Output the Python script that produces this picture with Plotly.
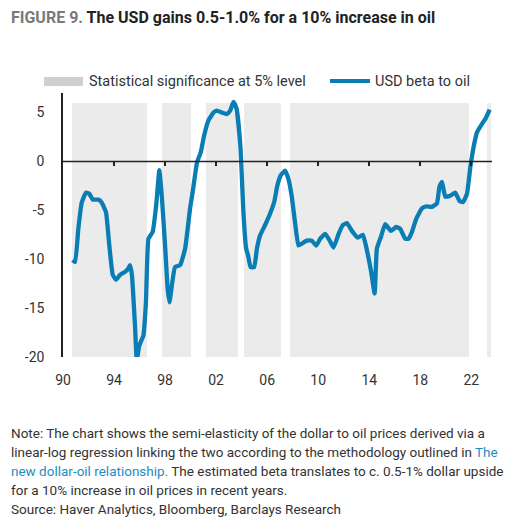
import numpy as np
import plotly.graph_objects as go

# USD beta to oil, decimal years
years = [
    1990.75, 1990.95, 1991.2, 1991.47, 1991.8, 1992.06, 1992.33, 1992.77, 1993.03, 1993.37,
    1993.63, 1993.9, 1994.16, 1994.47, 1994.86, 1995.12, 1995.25, 1995.4, 1995.65, 1995.78,
    1995.99, 1996.3, 1996.5, 1996.7, 1997.03, 1997.3, 1997.55, 1997.74, 1998.0, 1998.2,
    1998.34, 1998.5, 1998.78, 1999.18, 1999.57, 1999.96, 2000.2, 2000.5, 2000.8, 2001.06,
    2001.4, 2001.8, 2002.05, 2002.45, 2002.84, 2003.1, 2003.36, 2003.6, 2003.9, 2004.14,
    2004.35, 2004.5, 2004.7, 2004.98, 2005.2, 2005.45, 2005.84, 2006.24, 2006.55, 2006.8,
    2007.07, 2007.4, 2007.67, 2007.93, 2008.2, 2008.45, 2008.72, 2009.1, 2009.5, 2009.84,
    2010.16, 2010.55, 2010.9, 2011.2, 2011.6, 2011.94, 2012.25, 2012.64, 2013.1, 2013.5,
    2013.82, 2014.15, 2014.42, 2014.6, 2014.92, 2015.25, 2015.7, 2016.1, 2016.43, 2016.82,
    2017.08, 2017.35, 2017.69, 2018.13, 2018.47, 2018.9, 2019.3, 2019.5, 2019.7, 2019.96,
    2020.35, 2020.75, 2021.08, 2021.35, 2021.66, 2021.92, 2022.18, 2022.45, 2022.84, 2023.1,
    2023.44,
]
beta = [
    -10.1, -10.3, -6.9, -4.2, -3.2, -3.3, -3.9, -3.9, -4.2, -5.2,
    -8.6, -11.6, -12.1, -11.6, -11.3, -10.95, -10.6, -11.6, -17.0, -20.3,
    -18.8, -17.8, -14.4, -7.9, -7.2, -4.5, -0.9, -3.5, -8.6, -13.0,
    -14.4, -13.0, -10.8, -10.6, -8.9, -4.8, -2.8, -0.1, 0.95, 2.65,
    4.2, 5.0, 5.2, 5.0, 4.85, 5.2, 6.1, 5.4, 1.6, -5.2,
    -8.9, -9.6, -10.8, -10.8, -8.9, -7.55, -6.5, -5.3, -4.15, -2.45,
    -1.4, -0.95, -1.8, -3.6, -6.4, -8.6, -8.4, -8.1, -8.1, -8.6,
    -7.9, -7.4, -8.1, -8.8, -7.4, -6.5, -6.3, -7.1, -7.8, -7.5,
    -9.1, -11.3, -13.5, -8.9, -7.7, -6.4, -7.1, -6.7, -6.9, -7.9,
    -7.9, -7.2, -5.85, -4.8, -4.6, -4.65, -4.3, -2.6, -2.1, -3.6,
    -3.5, -3.2, -4.05, -4.15, -3.3, -0.6, 1.5, 3.0, 3.85, 4.35,
    5.3,
]

# periods of statistical significance at 5% level (start, end)
signif_periods = [
    (1990.73, 1996.6),
    (1997.82, 2000.0),
    (2001.27, 2003.67),
    (2004.2, 2007.02),
    (2007.8, 2021.84),
    (2023.23, 2023.5),
]

tick_years = [1990, 1994, 1998, 2002, 2006, 2010, 2014, 2018, 2022]
tick_text = ["90", "94", "98", "02", "06", "10", "14", "18", "22"]

note_lines = [
    "Note: The chart shows the semi-elasticity of the dollar to oil prices derived via a",
    "linear-log regression linking the two according to the methodology outlined in "
    "<span style='color:#1f8cc4'>The</span>",
    "<span style='color:#1f8cc4'>new dollar-oil relationship.</span> "
    "The estimated beta translates to c. 0.5-1% dollar upside",
    "for a 10% increase in oil prices in recent years.",
    "Source: Haver Analytics, Bloomberg, Barclays Research",
]

Y_MIN, Y_MAX = -20, 7
SHADE_TOP = 6
X_MIN, X_MAX = 1990, 2023.62

BLUE = "#0a7db4"
GREY = "#ebebeb"
TXT = "#333333"
FONT = "Roboto"

# monthly bars for shaded periods
bar_x = []
for a, b in signif_periods:
    bar_x.extend(np.arange(a + 1 / 24, b, 1 / 12))

fig = go.Figure()

fig.add_trace(go.Bar(
    x=bar_x,
    y=[SHADE_TOP - Y_MIN] * len(bar_x),
    base=Y_MIN,
    width=1 / 12 * 0.8,
    marker=dict(color=GREY, line_width=0),
    showlegend=False,
    hoverinfo="skip",
))

# zero line drawn on the overlaying axis
fig.add_trace(go.Scatter(
    x=[X_MIN, X_MAX], y=[0, 0],
    xaxis="x2",
    mode="lines",
    line=dict(color="#222222", width=1.5),
    showlegend=False,
    hoverinfo="skip",
))

fig.add_trace(go.Scatter(
    x=years, y=beta,
    mode="lines",
    line=dict(color=BLUE, width=4.3, shape="spline", smoothing=0.4),
    showlegend=False,
))

# page has an 8px body margin; positions below are page pixels
OFF = 8
W, H = 530 - OFF, 517 - OFF
L, T = 63 - OFF, 93 - OFF
R = W - (492 - OFF)
B = H - (357 - OFF)
pw, ph = W - L - R, H - T - B


def px(x):
    return (x - OFF - L) / pw


def py(y):
    return (H - B - (y - OFF)) / ph


annotations = [
    dict(x=px(9), y=py(18), xanchor="left", yanchor="middle",
         text="<span style='color:#7a7a7a'>FIGURE 9.</span> The USD gains 0.5-1.0% for a 10% increase in oil",
         font=dict(family=FONT, size=16, color="#222222", weight="bold")),
    dict(x=px(87), y=py(81), xanchor="left", yanchor="middle",
         text="Statistical significance at 5% level",
         font=dict(family=FONT, size=14.5, color=TXT)),
    dict(x=px(373), y=py(81), xanchor="left", yanchor="middle",
         text="USD beta to oil",
         font=dict(family=FONT, size=14.5, color=TXT)),
]
for i, line in enumerate(note_lines):
    annotations.append(dict(
        x=px(9), y=py(433 + 19 * i), xanchor="left", yanchor="middle",
        text=line, font=dict(family=FONT, size=13.5, color=TXT),
    ))
for a in annotations:
    a.update(xref="paper", yref="paper", showarrow=False)

shapes = [
    dict(type="rect", xref="paper", yref="paper",
         x0=px(44), x1=px(83), y0=py(86), y1=py(77),
         fillcolor="#d0d0d0", line_width=0),
    dict(type="line", xref="paper", yref="paper",
         x0=px(330), x1=px(370), y0=py(81), y1=py(81),
         line=dict(color=BLUE, width=4)),
]

fig.update_layout(
    width=W, height=H,
    margin=dict(l=L, r=R, t=T, b=B),
    paper_bgcolor="white",
    plot_bgcolor="white",
    bargap=0,
    annotations=annotations,
    shapes=shapes,
    font=dict(family=FONT, color=TXT),
    xaxis=dict(
        range=[X_MIN, X_MAX],
        tickvals=tick_years,
        ticktext=tick_text,
        showgrid=False, zeroline=False, showline=False,
        ticks="outside", ticklen=10, tickcolor="rgba(0,0,0,0)",
        tickfont=dict(size=14, color=TXT),
    ),
    xaxis2=dict(
        range=[X_MIN, X_MAX],
        overlaying="x",
        anchor="free",
        position=(0 - Y_MIN) / (Y_MAX - Y_MIN),
        side="bottom",
        tickvals=tick_years[1:],
        showticklabels=False,
        ticks="outside", ticklen=4, tickwidth=1.5, tickcolor="#222222",
        showgrid=False, zeroline=False, showline=False,
    ),
    yaxis=dict(
        range=[Y_MIN, Y_MAX],
        tickvals=[-20, -15, -10, -5, 0, 5],
        ticktext=["-20", "-15", "-10", "-5", "0", "5"],
        showgrid=False, zeroline=False,
        showline=True, linecolor="#222222", linewidth=1.5,
        ticks="", ticklabelstandoff=14,
        tickfont=dict(size=14, color=TXT),
    ),
)

fig.write_html("out.html")
